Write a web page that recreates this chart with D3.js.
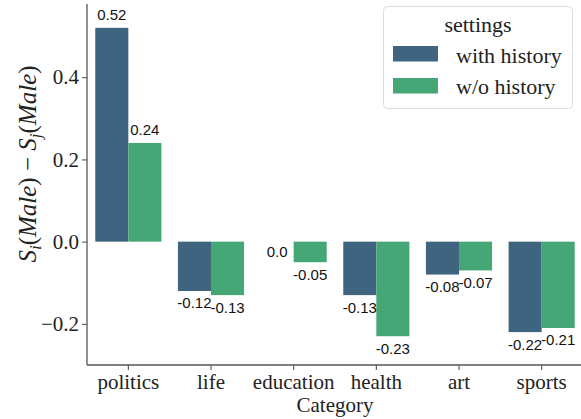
<!DOCTYPE html>
<html>
<head>
<meta charset="utf-8">
<script src="https://cdn.jsdelivr.net/npm/d3@7"></script>
<style>
  body { margin: 0; background: #fff; }
  svg { display: block; }
</style>
</head>
<body>
<script>
// data
const categories = ["politics", "life", "education", "health", "art", "sports"];
const seriesNames = ["with history", "w/o history"];
const withHistory = [0.52, -0.12, 0.0, -0.13, -0.08, -0.22];
const withoutHistory = [0.24, -0.13, -0.05, -0.23, -0.07, -0.21];
const yTicks = [-0.2, 0.0, 0.2, 0.4];

const colors = ["#3e6480", "#45a776"];

const width = 581, height = 419;
const margin = { top: 4, right: -2, bottom: 54, left: 87 };

const svg = d3.select("body").append("svg")
  .attr("width", width)
  .attr("height", height);

const x = d3.scaleBand()
  .domain(categories)
  .range([margin.left, width - margin.right])
  .padding(0);

const xSub = d3.scaleBand()
  .domain(seriesNames)
  .range([x.bandwidth() * 0.1, x.bandwidth() * 0.9])
  .padding(0);

const y = d3.scaleLinear()
  .domain([-0.3, 0.578])
  .range([height - margin.bottom, margin.top]);

const rows = categories.map((c, i) => ({
  category: c,
  values: [withHistory[i], withoutHistory[i]]
}));

// bars
const groups = svg.append("g").selectAll("g")
  .data(rows)
  .join("g")
  .attr("transform", d => "translate(" + x(d.category) + ",0)");

groups.selectAll("rect")
  .data(d => d.values.map((v, j) => ({ name: seriesNames[j], value: v, j: j })))
  .join("rect")
  .attr("x", d => xSub(d.name))
  .attr("width", xSub.bandwidth())
  .attr("y", d => y(Math.max(0, d.value)))
  .attr("height", d => Math.abs(y(d.value) - y(0)))
  .attr("fill", d => colors[d.j]);

// value labels
groups.selectAll("text")
  .data(d => d.values.map((v, j) => ({ name: seriesNames[j], value: v })))
  .join("text")
  .attr("x", d => xSub(d.name) + xSub.bandwidth() / 2)
  .attr("y", d => {
    if (d.value > 0) return y(d.value) - 7.5;
    if (d.value === 0) return y(0) + 15;
    return y(d.value) + 17.5;
  })
  .attr("text-anchor", "middle")
  .attr("font-family", "Liberation Sans, Arial, sans-serif")
  .attr("font-size", 15)
  .attr("fill", "#111")
  .text(d => d.value === 0 ? "0.0" : String(d.value));

// axes
const axisColor = "#555";

const yAxis = svg.append("g")
  .attr("transform", "translate(" + margin.left + ",0)")
  .call(d3.axisLeft(y)
    .tickValues(yTicks)
    .tickSize(5)
    .tickPadding(3)
    .tickFormat(d => d3.format(".1f")(d).replace("-", "\u2212")));

const xAxis = svg.append("g")
  .attr("transform", "translate(0," + (height - margin.bottom) + ")")
  .call(d3.axisBottom(x).tickSize(5).tickPadding(4));

[xAxis, yAxis].forEach(a => {
  a.select(".domain").attr("stroke", axisColor).attr("stroke-width", 1.3);
  a.selectAll(".tick line").attr("stroke", axisColor).attr("stroke-width", 1.1);
  a.selectAll(".tick text")
    .attr("fill", "#222")
    .attr("font-family", "Liberation Serif, Times New Roman, serif")
    .attr("font-size", 21);
});
// left spine should span the whole plot height
yAxis.select(".domain").attr("d", "M0," + y.range()[0] + "V" + y.range()[1]);
xAxis.select(".domain").attr("d", "M" + margin.left + ",0H" + (width - margin.right));

// axis titles
svg.append("text")
  .attr("x", (margin.left + width - margin.right) / 2)
  .attr("y", 412)
  .attr("text-anchor", "middle")
  .attr("font-family", "Liberation Serif, Times New Roman, serif")
  .attr("font-size", 21)
  .attr("fill", "#222")
  .text("Category");

const yTitle = svg.append("text")
  .attr("transform", "translate(36,164) rotate(-90)")
  .attr("text-anchor", "middle")
  .attr("font-family", "Liberation Serif, Times New Roman, serif")
  .attr("font-size", 25)
  .attr("fill", "#222");
yTitle.append("tspan").attr("font-style", "italic").text("S");
yTitle.append("tspan").attr("font-style", "italic").attr("font-size", 17).attr("dy", 5).text("i");
yTitle.append("tspan").attr("dy", -5).text("(");
yTitle.append("tspan").attr("font-style", "italic").text("Male");
yTitle.append("tspan").text(") \u2212 ");
yTitle.append("tspan").attr("font-style", "italic").text("S");
yTitle.append("tspan").attr("font-style", "italic").attr("font-size", 17).attr("dy", 5).text("j");
yTitle.append("tspan").attr("dy", -5).text("(");
yTitle.append("tspan").attr("font-style", "italic").text("Male");
yTitle.append("tspan").text(")");

// legend
const legend = svg.append("g");
legend.append("rect")
  .attr("x", 383.5).attr("y", 6.5)
  .attr("width", 189).attr("height", 102)
  .attr("rx", 4)
  .attr("fill", "#fff")
  .attr("fill-opacity", 0.8)
  .attr("stroke", "#ddd");
legend.append("text")
  .attr("x", 478).attr("y", 32)
  .attr("text-anchor", "middle")
  .attr("font-family", "Liberation Serif, Times New Roman, serif")
  .attr("font-size", 22)
  .attr("fill", "#222")
  .text("settings");
seriesNames.forEach((name, i) => {
  legend.append("rect")
    .attr("x", 393).attr("y", 46 + i * 32)
    .attr("width", 45).attr("height", 15.5)
    .attr("fill", colors[i]);
  legend.append("text")
    .attr("x", 456).attr("y", 63 + i * 31)
    .attr("font-family", "Liberation Serif, Times New Roman, serif")
    .attr("font-size", 22)
    .attr("fill", "#222")
    .text(name);
});
</script>
</body>
</html>
